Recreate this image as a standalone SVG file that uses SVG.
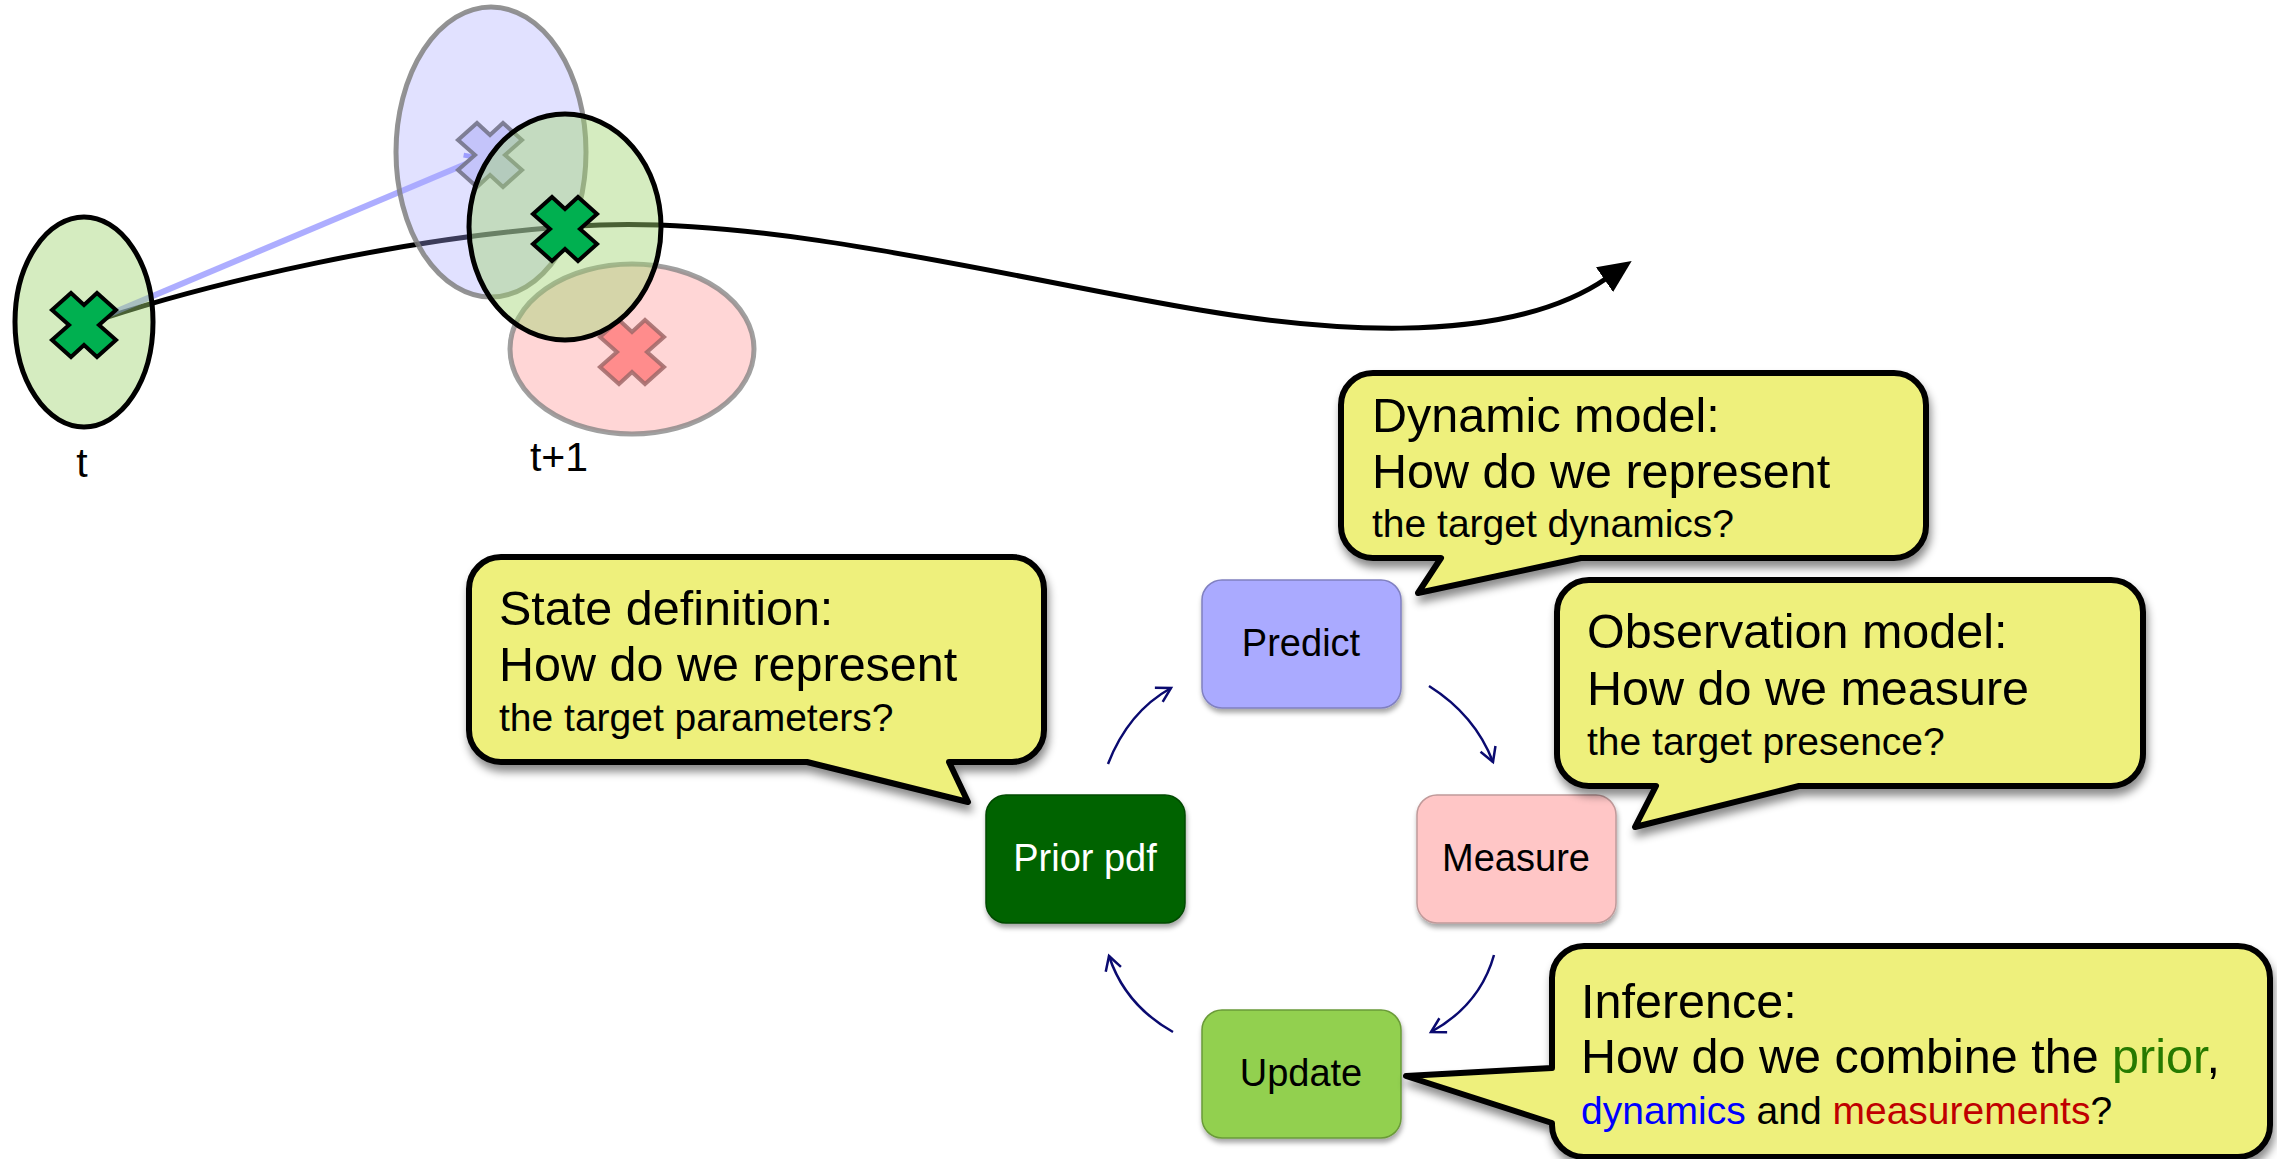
<svg xmlns="http://www.w3.org/2000/svg" width="2277" height="1159" viewBox="0 0 2277 1159">
<style>
text{font-family:"Liberation Sans",Arial,sans-serif;}
.big{font-size:48.5px;fill:#000;}
.small{font-size:39px;fill:#000;}
.node text{font-size:38px;text-anchor:middle;}
.bubble path{fill:#eef07c;stroke:#000;stroke-width:6;stroke-linejoin:round;filter:url(#bshadow);}
.box{stroke-width:1.5;filter:url(#nshadow);}
.cyc{fill:none;stroke:#0a0a70;stroke-width:2.5;marker-end:url(#chev);}
.xm{stroke-width:4;stroke-linejoin:miter;}
.lbl{font-size:41px;fill:#000;text-anchor:middle;}
</style>
<defs>
<filter id="bshadow" x="-10%" y="-10%" width="130%" height="140%">
<feDropShadow dx="2" dy="7" stdDeviation="4" flood-color="#000" flood-opacity="0.45"/>
</filter>
<filter id="nshadow" x="-10%" y="-10%" width="130%" height="130%">
<feDropShadow dx="1" dy="4" stdDeviation="2.5" flood-color="#000" flood-opacity="0.35"/>
</filter>
<marker id="tri" markerUnits="userSpaceOnUse" markerWidth="34" markerHeight="30" viewBox="0 0 34 30" refX="3" refY="15" orient="auto">
<path d="M0,0 L33,15 L0,30 Z" fill="#000"/>
</marker>
<marker id="bluehead" markerUnits="userSpaceOnUse" markerWidth="24" markerHeight="24" viewBox="0 0 24 24" refX="18" refY="12" orient="auto">
<path d="M4,3 L18,12 L4,21" fill="none" stroke="#5050ff" stroke-opacity="0.6" stroke-width="5"/>
</marker>
<marker id="chev" markerUnits="userSpaceOnUse" markerWidth="20" markerHeight="20" viewBox="0 0 20 20" refX="17" refY="10" orient="auto">
<path d="M3,2 L17,10 L3,18" fill="none" stroke="#0a0a70" stroke-width="2.5"/>
</marker>
<path id="xshape" d="M-32,-15 L-13,-32 L0,-20 L13,-32 L32,-15 L15,0 L32,15 L13,32 L0,20 L-13,32 L-32,15 L-15,0 Z"/>
</defs>

<g id="connectors">
<path id="trajectory" d="M84,325 C200,285 420,232 600,225 C780,218 1020,280 1200,310 C1300,327 1500,352 1607,278" fill="none" stroke="#000" stroke-width="5" marker-end="url(#tri)"/>
<line id="predline" x1="84" y1="325" x2="480" y2="158" stroke="#6a6aff" stroke-opacity="0.55" stroke-width="6" marker-end="url(#bluehead)"/>
<path class="cyc" d="M1108,764 Q1128,712 1171,688"/>
<path class="cyc" d="M1429,686 Q1475,715 1493,762"/>
<path class="cyc" d="M1494,955 Q1480,1005 1431,1032"/>
<path class="cyc" d="M1173,1032 Q1125,1005 1109,956"/>
</g>

<g id="state-t">
<ellipse cx="84" cy="322" rx="69" ry="105" fill="#a2d573" fill-opacity="0.45" stroke="#000" stroke-width="5"/>
</g>
<g id="predicted">
<ellipse cx="491" cy="152" rx="95" ry="145" fill="#aaaaff" fill-opacity="0.35" stroke="#808080" stroke-opacity="0.85" stroke-width="5"/>
</g>
<g id="measured">
<ellipse cx="632" cy="349" rx="122" ry="85" fill="#ff9999" fill-opacity="0.4" stroke="#808080" stroke-opacity="0.75" stroke-width="5"/>
</g>
<use href="#xshape" x="84" y="325" class="xm" fill="#00b050" stroke="#000"/>
<use href="#xshape" x="490" y="155" class="xm" fill="#c4c4fa" stroke="#74748a" stroke-opacity="0.9"/>
<use href="#xshape" x="632" y="352" class="xm" fill="#ff8c8c" stroke="#a06868" stroke-opacity="0.85"/>
<g id="state-t1">
<ellipse cx="565" cy="227" rx="96" ry="113" fill="#a2d573" fill-opacity="0.45" stroke="#000" stroke-width="5"/>
<use href="#xshape" x="565" y="229" class="xm" fill="#00b050" stroke="#000"/>
</g>
<text class="lbl" x="82" y="477">t</text>
<text class="lbl" x="559" y="471">t+1</text>

<g id="node-prior" class="node">
<rect class="box" x="986" y="795" width="199" height="128" rx="20" fill="#006400" stroke="#004a00"/>
<text x="1085" y="871" fill="#fff">Prior pdf</text>
</g>
<g id="node-predict" class="node">
<rect class="box" x="1202" y="580" width="199" height="128" rx="20" fill="#aaaaff" stroke="#8080c0"/>
<text x="1301" y="656" fill="#000">Predict</text>
</g>
<g id="node-measure" class="node">
<rect class="box" x="1417" y="795" width="199" height="128" rx="20" fill="#ffc6c6" stroke="#c09a9a"/>
<text x="1516" y="871" fill="#000">Measure</text>
</g>
<g id="node-update" class="node">
<rect class="box" x="1202" y="1010" width="199" height="128" rx="20" fill="#92d050" stroke="#6a9a38"/>
<text x="1301" y="1086" fill="#000">Update</text>
</g>

<g id="bubble-state" class="bubble">
<path d="M501,557 H1012 A32,32 0 0 1 1044,589 V730 A32,32 0 0 1 1012,762 H949 L968,802 L807,762 H501 A32,32 0 0 1 469,730 V589 A32,32 0 0 1 501,557 Z"/>
<text class="big" x="499" y="625">State definition:</text>
<text class="big" x="499" y="681">How do we represent</text>
<text class="small" x="499" y="731">the target parameters?</text>
</g>
<g id="bubble-dynamic" class="bubble">
<path d="M1373,373 H1894 A32,32 0 0 1 1926,405 V526 A32,32 0 0 1 1894,558 H1581 L1418,593 L1441,558 H1373 A32,32 0 0 1 1341,526 V405 A32,32 0 0 1 1373,373 Z"/>
<text class="big" x="1372" y="432">Dynamic model:</text>
<text class="big" x="1372" y="488">How do we represent</text>
<text class="small" x="1372" y="537">the target dynamics?</text>
</g>
<g id="bubble-observation" class="bubble">
<path d="M1589,580 H2111 A32,32 0 0 1 2143,612 V754 A32,32 0 0 1 2111,786 H1799 L1635,827 L1656,786 H1589 A32,32 0 0 1 1557,754 V612 A32,32 0 0 1 1589,580 Z"/>
<text class="big" x="1587" y="648">Observation model:</text>
<text class="big" x="1587" y="705">How do we measure</text>
<text class="small" x="1587" y="755">the target presence?</text>
</g>
<g id="bubble-inference" class="bubble">
<path d="M1584,946 H2238 A32,32 0 0 1 2270,978 V1125 A32,32 0 0 1 2238,1157 H1584 A32,32 0 0 1 1552,1125 V1123 L1406,1076 L1552,1068 V978 A32,32 0 0 1 1584,946 Z"/>
<text class="big" x="1581" y="1018">Inference:</text>
<text class="big" x="1581" y="1073">How do we combine the <tspan fill="#267a00">prior</tspan>,</text>
<text class="small" x="1581" y="1124"><tspan fill="#0000ff">dynamics</tspan> and <tspan fill="#c00000">measurements</tspan>?</text>
</g>
</svg>
